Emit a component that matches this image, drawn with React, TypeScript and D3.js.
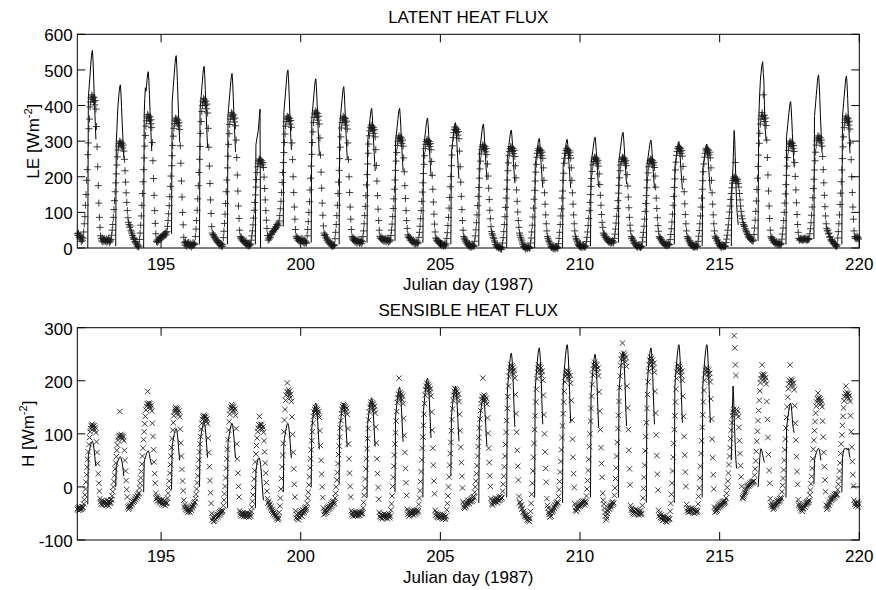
import React from 'react';
import * as d3 from 'd3';

// ---------------- data ----------------
const days = [192,193,194,195,196,197,198,199,200,201,202,203,204,205,206,207,208,209,210,211,212,213,214,215,216,217,218,219];
const SLOTS = 48;          // half-hourly samples per day
const MODEL_START = 18;    // first model sample of the day (09:00)
const xTicks = [195, 200, 205, 210, 215, 220];
const leTicks = [0, 100, 200, 300, 400, 500, 600];
const hTicks = [-100, 0, 100, 200, 300];

// observed latent heat flux, half-hourly, one row per day
const leObs: number[][] = [
[40,35,42,30,36,25,33,18,30,22,28, 45,68,88,120,150,190,220,262,295,335,362,396, 410,422,430,418,426,410,422,402,414,390, 341,284,228,175,126,86, 58,34,26,20,28,17,24,19,26],
[21,18,25,16,23,20,27,15,22,19,24, 36,50,66,86,108,133,158,183,208,233,256,275, 286,294,300,292,297,286,294,281,289,272, 249,217,185,155,128,105, 85,72,66,58,62,50,45,40,35],
[30,24,27,18,14,17,9,5,11,3,6, 24,42,64,90,120,153,186,220,253,286,316,342, 357,368,375,364,371,357,368,349,360,338, 296,245,195,148,105,69, 40,18,22,16,25,20,28,24,30],
[32,28,35,30,38,33,40,36,44,39,46, 61,77,96,119,144,173,202,231,259,288,314,336, 349,359,365,355,362,349,359,343,352,333, 287,238,188,143,100,65, 30,15,8,18,12,5,14,9,16],
[10,6,14,8,3,11,7,15,9,13,10, 32,53,77,106,138,175,212,249,285,322,355,383, 400,412,420,408,416,400,412,391,404,379, 336,283,230,181,135,97, 60,42,36,38,30,33,25,28,20],
[22,16,19,12,15,8,13,6,11,4,9, 29,47,69,95,125,158,191,225,258,291,321,347, 362,373,380,369,376,362,373,354,365,343, 303,254,205,160,118,83, 50,32,26,30,22,25,18,21,15],
[17,12,20,9,14,7,12,5,10,8,11, 22,34,48,65,84,106,128,149,171,192,212,228, 238,245,250,243,248,238,245,233,240,226, 199,167,135,105,78,55, 35,22,28,25,34,30,40,38,46],
[44,50,48,55,52,60,57,66,62,70,64, 76,91,110,131,156,184,212,240,268,296,320,342, 355,364,370,361,367,355,364,348,358,339, 295,248,200,156,115,81, 52,33,27,30,22,26,19,23,17],
[25,20,27,18,23,15,21,13,19,16,14, 34,52,74,100,130,163,196,230,263,296,326,352, 367,378,385,374,381,367,378,359,370,348, 309,261,213,168,126,92, 62,42,35,38,28,31,22,25,16],
[20,14,17,10,13,6,11,4,9,7,8, 26,44,66,91,120,153,185,218,251,283,312,337, 352,363,370,359,366,352,363,345,356,334, 295,248,200,156,115,81, 52,32,25,29,21,26,18,23,16],
[20,14,22,17,24,13,19,15,21,12,18, 32,48,68,91,117,147,177,206,236,266,292,315, 329,338,345,335,342,329,338,322,332,312, 276,232,188,147,109,77, 50,33,27,31,24,28,21,26,19],
[25,20,27,18,24,21,28,17,23,19,22, 35,50,67,88,111,138,165,191,218,244,268,288, 300,309,315,306,312,300,309,294,303,286, 253,214,175,139,105,77, 55,37,30,33,26,29,21,24,17],
[20,15,22,13,18,11,16,14,19,12,15, 30,44,61,82,105,131,157,183,209,235,259,279, 291,299,305,296,302,291,299,285,293,276, 243,204,165,129,95,67, 45,28,22,26,18,21,14,17,12],
[15,9,13,7,12,5,10,8,14,6,11, 27,43,63,86,112,142,172,201,231,261,287,310, 324,333,340,330,337,324,333,317,327,307, 272,228,185,145,108,77, 50,32,25,28,19,22,13,16,8],
[10,5,12,3,8,2,6,9,4,7,5, 19,34,51,71,93,119,145,170,196,222,244,264, 276,284,290,281,287,276,284,270,279,262, 236,202,168,136,106,82, 60,46,40,36,30,26,20,16,10],
[6,2,8,4,0,5,1,-2,3,-4,2, 14,29,46,66,88,114,140,165,191,217,239,259, 271,279,285,276,282,271,279,265,274,257, 231,197,163,131,101,77, 58,42,36,30,25,20,14,9,4],
[2,6,-3,3,0,5,-2,2,4,-1,1, 14,28,45,64,87,112,137,162,188,213,235,255, 266,274,280,272,277,266,274,260,269,252, 225,190,155,123,93,68, 48,32,27,22,18,14,9,5,2],
[0,4,-2,6,1,-3,3,0,5,-1,2, 12,27,44,66,90,110,140,160,190,210,238,252, 266,274,280,272,277,266,274,260,269,252, 225,190,155,123,93,68, 48,33,27,23,19,14,10,7,4],
[8,3,6,1,9,4,7,2,5,3,6, 18,30,45,63,83,105,128,150,173,195,215,233, 243,250,255,248,253,243,250,238,245,230, 208,178,148,120,94,72, 58,42,36,39,30,33,25,27,20],
[22,17,24,16,20,13,18,15,21,14,17, 27,39,53,70,89,111,133,154,176,197,217,233, 243,250,255,248,253,243,250,238,245,231, 206,174,143,113,86,64, 48,32,26,28,20,22,13,15,8],
[10,4,8,2,6,9,3,7,1,5,4, 17,30,44,61,81,103,125,147,169,191,211,228, 238,245,250,243,248,238,245,233,240,226, 202,171,140,111,85,63, 47,32,27,29,22,24,16,18,12],
[14,9,12,7,13,8,11,6,12,9,10, 24,38,54,73,95,120,145,170,194,219,241,260, 271,280,285,277,282,271,280,266,274,258, 229,193,158,124,94,68, 48,32,26,28,19,22,12,15,7],
[10,5,12,3,8,2,7,4,9,3,5, 19,33,49,68,90,115,140,165,189,214,236,255, 266,275,280,272,277,266,275,261,269,253, 225,190,155,123,93,68, 48,33,27,29,20,23,13,16,8],
[9,4,7,2,10,5,8,3,6,4,5, 15,25,36,50,65,83,101,118,136,153,169,182, 190,196,200,194,240,190,196,186,192,181, 171,153,135,118,103,90, 82,72,66,60,62,54,50,46,42],
[38,34,30,33,27,24,28,21,25,19,22, 38,56,78,103,132,164,196,229,261,294,322,348, 362,373,380,369,430,362,373,355,365,344, 303,254,205,160,118,83, 50,32,26,29,21,24,16,19,12],
[16,12,18,9,14,11,15,8,13,10,12, 25,39,56,77,100,126,152,178,204,230,254,274, 286,294,300,291,297,286,294,280,288,271, 240,201,163,127,94,66, 44,27,22,26,24,28,23,25,21],
[26,23,27,24,28,22,25,23,27,24,26, 40,54,71,92,115,141,167,193,219,245,269,289, 301,309,315,306,312,301,309,295,303,286, 257,220,183,148,116,90, 68,55,48,50,40,42,30,32,22],
[24,18,20,13,16,9,12,6,10,4,8, 28,46,68,93,122,154,186,219,251,284,312,338, 352,363,370,359,366,352,363,345,356,334, 295,248,200,156,115,81, 48,32,27,31,26,33,28,30,25],
];

// modelled latent heat flux, half-hourly from 09:00, one row per day
const leModel: (number | null)[][] = [
[0,422,444,466,488,511,533,549,555,527,483,433,389,344,305],
[5,300,330,370,400,421,440,453,458,435,398,357,321,284,252],
[0,376,420,450,440,455,475,490,495,470,431,386,347,307,272],
[40,410,432,454,475,497,518,535,540,513,470,421,378,335,297],
[10,388,408,428,449,469,490,505,510,485,444,398,357,316,281],
[10,372,392,412,431,451,470,485,490,466,426,382,343,304,270],
[10,290,300,310,320,330,350,370,390,0,null,null,null,null,null],
[60,380,400,420,440,460,480,495,500,475,435,390,350,310,275],
[15,361,380,399,418,437,456,470,475,451,413,371,333,295,261],
[10,344,362,381,399,417,435,448,453,430,394,353,317,281,249],
[15,298,314,329,345,361,376,388,392,372,341,306,274,243,216],
[20,298,314,329,345,361,376,388,392,372,341,306,274,243,216],
[15,277,292,307,321,336,350,361,365,347,318,285,256,226,201],
[10,268,282,296,310,324,338,348,352,334,306,275,246,218,194],
[5,264,278,292,306,320,334,345,348,331,303,271,244,216,191],
[0,252,265,278,291,305,318,328,331,314,288,258,232,205,182],
[0,234,246,259,271,283,296,305,308,293,268,240,216,191,169],
[0,232,244,256,268,281,293,302,305,290,265,238,214,189,168],
[5,236,249,261,274,286,299,308,311,295,271,243,218,193,171],
[15,247,260,273,286,299,312,322,325,309,283,254,228,202,179],
[5,230,242,255,267,279,291,300,303,288,264,236,212,188,167],
[10,227,239,251,263,275,287,296,299,284,260,233,209,185,164],
[5,222,234,245,257,269,280,289,292,277,254,228,204,181,161],
[null,null,5,180,200,230,290,330,300,240,180,130,100,80,65],
[20,340,400,440,470,490,505,518,523,490,470,400,337,320,300],
[10,312,329,345,362,378,395,407,411,390,358,321,288,255,226],
[25,369,389,408,428,447,467,481,486,462,423,379,340,301,267],
[10,367,386,406,425,444,464,478,483,459,420,377,338,299,266],
];

// observed sensible heat flux, half-hourly, one row per day
const hObs: number[][] = [
[-42,-40,-44,-38,-41,-43,-39,-42,-37,-40,-38, -32,-24,-15,-4,9,23,37,52,66,80,93,104, 110,115,118,113,116,110,115,107,112,102, 85,65,44,25,7,-8, -22,-28,-32,-26,-34,-29,-31,-27,-33],
[-28,-35,-30,-25,-33,-29,-36,-27,-31,-24,-30, -24,-17,-9,0,10,22,34,45,57,69,79,88, 94,97,142,96,99,94,97,91,95,87, 69,50,30,12,-5,-19, -38,-42,-36,-40,-34,-37,-31,-33,-28],
[-29,-25,-27,-22,-24,-19,-21,-16,-18,-13,-11, -2,7,17,29,43,58,73,89,104,119,133,145, 152,157,180,155,158,152,157,148,153,143, 120,95,70,47,25,7, -12,-22,-18,-26,-21,-28,-24,-30,-25],
[-27,-32,-24,-29,-33,-26,-30,-35,-28,-31,-30, -21,-12,-1,11,26,42,58,74,91,107,121,134, 141,146,150,145,148,141,146,137,143,132, 109,83,58,33,11,-7, -25,-38,-33,-42,-37,-45,-40,-48,-43],
[-46,-42,-48,-40,-44,-36,-39,-33,-35,-30,-28, -22,-14,-4,8,21,36,51,66,81,95,109,120, 127,132,135,130,133,127,132,123,128,119, 92,65,38,12,-11,-31, -50,-62,-57,-65,-59,-64,-55,-61,-53],
[-58,-52,-56,-49,-53,-47,-51,-45,-48,-44,-46, -35,-25,-13,1,17,35,53,71,89,107,123,137, 145,151,155,149,153,145,151,141,147,135, 110,81,53,26,1,-19, -45,-52,-48,-55,-50,-53,-49,-56,-51],
[-54,-50,-56,-52,-49,-55,-51,-57,-53,-50,-55, -46,-38,-27,-15,-1,15,31,47,62,78,92,104, 111,117,133,115,118,111,117,108,113,103, 87,66,45,26,8,-8, -22,-30,-27,-35,-32,-40,-37,-44,-42],
[-46,-50,-48,-53,-51,-56,-54,-60,-57,-62,-59, -48,-36,-21,-4,16,38,60,82,104,126,146,163, 173,180,196,178,183,173,180,168,175,161, 132,99,65,34,5,-19, -45,-58,-52,-60,-55,-62,-50,-57,-48],
[-53,-46,-55,-43,-50,-45,-48,-40,-44,-38,-42, -31,-21,-10,4,19,36,53,70,87,104,120,133, 141,146,150,144,148,141,146,137,142,131, 106,78,50,24,0,-20, -40,-52,-46,-50,-44,-48,-40,-45,-38],
[-42,-36,-40,-33,-37,-30,-35,-28,-32,-27,-31, -21,-12,0,13,27,44,61,77,94,111,125,138, 146,151,155,149,153,146,151,142,148,137, 110,81,53,26,1,-19, -45,-52,-48,-55,-50,-53,-47,-54,-49],
[-52,-48,-55,-50,-53,-47,-54,-49,-51,-46,-50, -40,-29,-16,-2,15,34,53,72,91,110,126,141, 150,156,160,154,158,150,156,145,152,139, 113,83,53,25,-1,-23, -48,-56,-52,-58,-54,-60,-53,-57,-51],
[-55,-58,-52,-57,-53,-60,-54,-56,-51,-58,-55, -43,-32,-17,1,18,39,60,81,102,124,142,159, 168,175,205,173,178,168,175,164,171,157, 129,97,65,35,8,-16, -42,-52,-47,-55,-49,-53,-46,-51,-45],
[-50,-46,-53,-44,-48,-51,-45,-49,-43,-47,-45, -33,-21,-7,10,29,51,73,94,116,137,157,173, 183,190,195,188,193,183,190,178,185,171, 141,107,73,41,11,-13, -44,-53,-48,-56,-51,-57,-52,-58,-54],
[-52,-57,-54,-59,-55,-60,-53,-58,-56,-61,-55, -43,-31,-17,0,19,41,63,84,106,127,147,163, 173,180,185,178,183,173,180,168,175,161, 137,106,75,46,20,-2, -28,-38,-33,-40,-35,-37,-30,-33,-25],
[-30,-26,-32,-24,-28,-22,-27,-20,-25,-18,-20, -10,0,11,25,40,58,76,93,111,128,144,157, 165,171,205,169,173,165,171,161,167,156, 130,101,73,46,21,1, -22,-32,-26,-34,-28,-30,-24,-27,-21],
[-28,-24,-30,-22,-26,-19,-25,-18,-23,-20,-21, -8,5,20,38,58,80,103,125,148,170,190,208, 218,225,230,223,228,218,225,213,220,205, 174,138,103,69,39,13, -18,-30,-28,-36,-34,-42,-40,-48,-46],
[-50,-55,-52,-58,-54,-62,-57,-63,-59,-65,-60, -46,-31,-14,7,30,56,82,108,134,160,184,204, 216,224,230,221,227,216,224,210,218,201, 173,136,100,66,35,9, -22,-35,-40,-48,-52,-57,-50,-55,-45],
[-48,-42,-45,-38,-40,-34,-36,-30,-33,-28,-30, -18,-5,10,28,48,70,93,115,138,160,180,198, 208,215,220,213,218,208,215,203,210,195, 163,126,90,56,25,-1, -32,-44,-38,-46,-40,-42,-35,-38,-32],
[-36,-30,-34,-28,-33,-26,-31,-29,-34,-27,-30, -17,-4,12,31,52,76,100,124,148,171,193,211, 222,230,235,227,232,222,230,216,224,209, 179,143,108,74,44,18, -12,-25,-32,-40,-48,-55,-62,-58,-50],
[-45,-40,-36,-42,-34,-38,-30,-35,-28,-32,-30, -16,-2,16,36,58,84,110,135,161,187,209,229, 241,249,271,246,252,241,249,235,244,227, 190,149,108,69,34,4, -35,-44,-40,-48,-43,-50,-45,-52,-47],
[-42,-48,-44,-51,-46,-53,-48,-50,-45,-52,-50, -35,-21,-3,18,41,68,95,121,148,174,198,218, 230,239,245,236,242,230,239,224,233,216, 180,139,98,59,24,-6, -44,-55,-50,-58,-53,-60,-56,-63,-58],
[-55,-62,-57,-65,-59,-66,-60,-63,-58,-61,-60, -46,-31,-14,7,30,56,82,108,134,160,184,204, 216,224,230,221,227,216,224,210,218,201, 171,133,95,60,28,1, -33,-45,-40,-48,-43,-47,-41,-46,-44],
[-40,-46,-42,-49,-44,-50,-45,-48,-43,-47,-45, -32,-18,-2,17,39,63,87,112,136,160,182,201, 212,220,225,217,222,212,220,206,214,198, 166,128,90,55,23,-4, -38,-48,-42,-46,-40,-44,-37,-40,-34],
[-38,-33,-36,-30,-34,-28,-32,-27,-31,-26,-30, -21,-12,-1,11,26,42,58,74,91,107,121,134, 141,146,285,262,230,210,146,137,143,132, 112,87,63,40,19,1, -20,-22,-18,-15,-12,-10,-7,-4,-1],
[1,3,2,5,4,7,6,9,8,10,10, 11,22,34,49,67,86,105,125,144,163,181,196, 204,211,230,209,213,204,211,200,206,194, 161,127,93,61,31,7, -22,-35,-30,-38,-34,-42,-37,-40,-33],
[-36,-30,-34,-27,-31,-25,-28,-22,-26,-20,-22, -9,3,16,32,50,70,90,111,131,151,169,185, 194,201,230,198,203,194,201,189,196,183, 153,120,88,57,29,5, -24,-35,-31,-40,-36,-44,-40,-46,-42],
[-40,-36,-33,-38,-30,-34,-28,-31,-26,-29,-25, -15,-6,6,20,35,53,71,88,106,123,139,152, 160,166,177,164,168,160,166,156,162,151, 124,94,65,38,13,-9, -34,-42,-36,-40,-32,-35,-27,-30,-22],
[-25,-20,-23,-17,-21,-14,-19,-12,-16,-13,-15, -5,5,16,30,45,63,81,98,116,133,149,162, 170,176,190,174,178,170,176,166,172,161, 134,104,75,48,23,2, -25,-33,-29,-36,-31,-34,-28,-37,-32],
];

// modelled sensible heat flux, half-hourly from 09:00, one row per day
const hModel: (number | null)[][] = [
[-33,60,65,71,75,79,83,85,86,83,77,69,58,47,39],
[0,40,43,47,50,52,55,56,57,55,51,46,39,31,20],
[-10,48,52,56,59,63,65,67,68,66,61,54,48,45,42],
[-5,77,84,90,96,101,106,109,110,107,99,88,75,61,50],
[0,85,93,100,106,112,117,121,122,118,110,98,83,67,55],
[-40,84,91,98,104,110,115,119,120,116,108,96,82,66,54],
[-40,30,38,45,50,53,55,54,50,42,30,15,0,-15,-25],
[-10,84,91,98,104,110,115,119,120,116,108,96,82,66,54],
[0,111,120,130,137,145,152,156,158,153,142,126,107,87,71],
[5,115,122,128,138,146,150,157,158,152,140,128,110,90,75],
[-20,118,128,138,146,155,161,166,168,163,151,134,114,92,76],
[-10,132,143,154,164,173,180,186,188,182,169,150,128,103,85],
[-20,144,156,168,178,189,197,203,205,199,185,164,139,113,92],
[20,133,144,156,165,175,182,188,190,184,171,152,129,105,86],
[-30,119,129,139,148,156,163,168,170,165,153,136,116,94,77],
[-20,176,192,207,219,232,242,249,252,244,227,202,171,139,113],
[-20,183,199,215,228,241,252,259,262,254,236,210,178,144,118],
[-30,188,204,220,233,247,257,265,268,260,241,214,182,147,121],
[-20,175,190,205,218,230,240,248,250,243,225,200,170,138,113],
[-20,179,194,209,222,235,245,252,255,247,230,204,173,140,115],
[-30,183,199,215,228,241,252,259,262,254,236,210,178,144,118],
[-30,188,204,220,233,247,257,265,268,260,241,214,182,147,121],
[-20,188,204,220,233,247,257,265,268,260,241,214,182,147,121],
[null,null,50,100,150,190,170,130,100,70,50,35,null,null,null],
[0,15,35,55,68,72,70,66,60,55,50,46,null,null,null],
[-20,111,120,130,137,145,152,156,158,153,142,126,115,108,102],
[5,51,55,60,64,67,70,72,73,71,66,58,50,null,null],
[-10,55,62,68,72,73,72,73,73,70,72,73,68,60,55],
];

// ---------------- layout ----------------
const W = 876, H = 590;
const X0 = 77.3, X1 = 859.3;
const FONT = '"Liberation Sans", Arial, Helvetica, sans-serif';
const TICK = 8;

const x = d3.scaleLinear().domain([192, 220]).range([X0, X1]);

type PanelProps = {
  id: string;
  y0: number; y1: number;
  domain: [number, number];
  yTicks: number[];
  obs: number[][];
  model: (number | null)[][];
  marker: 'plus' | 'x';
  title: string; titleY: number;
  xlabelY: number;
  ylabel: string; ylabelX: number;
};

function Panel(p: PanelProps) {
  const y = d3.scaleLinear().domain(p.domain).range([p.y1, p.y0]);
  const pts = days.flatMap((d, k) => p.obs[k].map((v, i) => ({ t: d + i / SLOTS, v })));
  const segs = days.map((d, k) => p.model[k].map((v, j) => ({ t: d + (MODEL_START + j) / SLOTS, v })));
  const line = d3.line<{ t: number; v: number | null }>()
    .defined(d => d.v != null)
    .x(d => x(d.t))
    .y(d => y(d.v as number));
  const mk = (cx: number, cy: number) => {
    if (p.marker === 'plus') {
      const s = 3.5;
      return `M${cx - s},${cy}H${cx + s}M${cx},${cy - s}V${cy + s}`;
    }
    const s = 2.7;
    return `M${cx - s},${cy - s}L${cx + s},${cy + s}M${cx - s},${cy + s}L${cx + s},${cy - s}`;
  };
  const cy = (p.y0 + p.y1) / 2;
  const cx = (X0 + X1) / 2;
  return (
    <g>
      <defs>
        <clipPath id={`clip-${p.id}`}>
          <rect x={X0} y={p.y0} width={X1 - X0} height={p.y1 - p.y0} />
        </clipPath>
      </defs>
      <g clipPath={`url(#clip-${p.id})`}>
        {segs.map((s, k) => (
          <path key={k} d={line(s) || ''} fill="none" stroke="#000" strokeWidth={1} />
        ))}
      </g>
      <g stroke="#1a1a1a" strokeWidth={0.85} fill="none">
        {pts.map((d, i) => (
          <path key={i} d={mk(x(d.t), y(d.v))} />
        ))}
      </g>
      <rect x={X0} y={p.y0} width={X1 - X0} height={p.y1 - p.y0} fill="none" stroke="#000" strokeWidth={1} />
      <g stroke="#000" strokeWidth={1}>
        {xTicks.map(t => (
          <g key={t}>
            <line x1={x(t)} x2={x(t)} y1={p.y1} y2={p.y1 - TICK} />
            <line x1={x(t)} x2={x(t)} y1={p.y0} y2={p.y0 + TICK} />
          </g>
        ))}
        {p.yTicks.map(t => (
          <g key={t}>
            <line x1={X0} x2={X0 + TICK} y1={y(t)} y2={y(t)} />
            <line x1={X1} x2={X1 - TICK} y1={y(t)} y2={y(t)} />
          </g>
        ))}
      </g>
      <g fontFamily={FONT} fontSize={17} fill="#000">
        {xTicks.map(t => (
          <text key={t} x={x(t)} y={p.y1 + 21.5} textAnchor="middle">{t}</text>
        ))}
        {p.yTicks.map(t => (
          <text key={t} x={X0 - 4.6} y={y(t) + 7} textAnchor="end">{t}</text>
        ))}
      </g>
      <g fontFamily={FONT} fontSize={17} fill="#000">
        <text x={cx} y={p.titleY} textAnchor="middle">{p.title}</text>
        <text x={cx} y={p.xlabelY} textAnchor="middle">Julian day (1987)</text>
        <text transform={`translate(${p.ylabelX},${cy}) rotate(-90)`} textAnchor="middle">
          {p.ylabel} [Wm<tspan dy={-7} fontSize={11}>-2</tspan><tspan dy={7}>]</tspan>
        </text>
      </g>
    </g>
  );
}

export default function App() {
  return (
    <svg width={W} height={H} viewBox={`0 0 ${W} ${H}`}
      style={{ position: 'absolute', left: 0, top: 0, background: '#fff' }}>
      <rect width={W} height={H} fill="#fff" />
      <Panel id="le" y0={34.3} y1={248} domain={[0, 600]} yTicks={leTicks}
        obs={leObs} model={leModel} marker="plus"
        title="LATENT HEAT FLUX" titleY={22.5} xlabelY={290}
        ylabel="LE" ylabelX={38.5} />
      <Panel id="h" y0={327.7} y1={540} domain={[-100, 300]} yTicks={hTicks}
        obs={hObs} model={hModel} marker="x"
        title="SENSIBLE HEAT FLUX" titleY={315.5} xlabelY={583}
        ylabel="H" ylabelX={33.5} />
    </svg>
  );
}
